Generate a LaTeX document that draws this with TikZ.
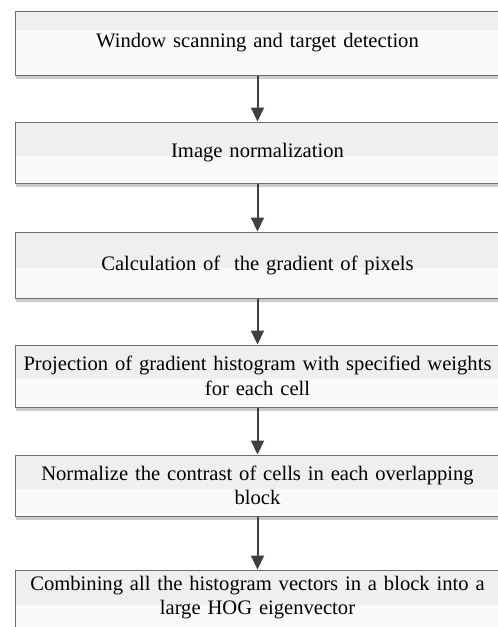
\documentclass[tikz,border=0pt]{standalone}
\usepackage{fontspec}
\setmainfont{Liberation Serif}
\usetikzlibrary{arrows.meta,calc,shadows}
\definecolor{boxline}{HTML}{6E6E6E}
\definecolor{bandtop}{HTML}{EFEFEF}
\definecolor{bandlow}{HTML}{FAFAFA}
\definecolor{arrowc}{HTML}{404040}
\definecolor{shadowc}{HTML}{CCCCCC}
\tikzset{
  box/.style={draw=boxline, line width=1pt, fill=bandlow, minimum width=485pt,
    inner sep=0pt, text width=484pt, align=center,
    font=\fontsize{20.6}{24.5}\selectfont,
    general shadow={fill=shadowc, shadow xshift=1pt, shadow yshift=-4pt},
    path picture={\fill[bandtop] (path picture bounding box.north west) rectangle
      ($(path picture bounding box.north east)!#1!(path picture bounding box.south east)$);}},
  box/.default=0.55,
  boxtext/.style={inner sep=0pt, text width=484pt, align=center,
    font=\fontsize{20.6}{24.5}\selectfont},
  flow/.style={-{Triangle[width=13pt,length=14pt]}, line width=2pt, draw=arrowc, fill=arrowc},
}
\begin{document}
\begin{tikzpicture}[x=1pt,y=-1pt]
\useasboundingbox (0,0) rectangle (498,627);
\node[box=0.3, minimum height=64pt] (b1) at (257.5,43) {Window scanning and target detection};
\node[box, minimum height=61pt] (b2) at (257.5,152.5) {Image normalization};
\node[box, minimum height=66pt] (b3) at (257.5,265) {Calculation of~ the gradient of pixels};
\node[box, minimum height=62pt] (b4) at (257.5,376) {Projection of gradient histogram with specified weights\\for each cell};
\node[box, minimum height=61pt] (b5) at (257.5,485.5) {Normalize the contrast of cells in each overlapping\\block};
\node[box, minimum height=64pt] (b6) at (257.5,602) {};
\node[boxtext] (t6) at (257.5,597.5) {Combining all the histogram vectors in a block into a\\large HOG eigenvector};
\draw[flow] (b1.south) -- (b2.north);
\draw[flow] (b2.south) -- (b3.north);
\draw[flow] (b3.south) -- (b4.north);
\draw[flow] (b4.south) -- (b5.north);
\draw[flow] (b5.south) -- (b6.north);
\end{tikzpicture}
\end{document}
